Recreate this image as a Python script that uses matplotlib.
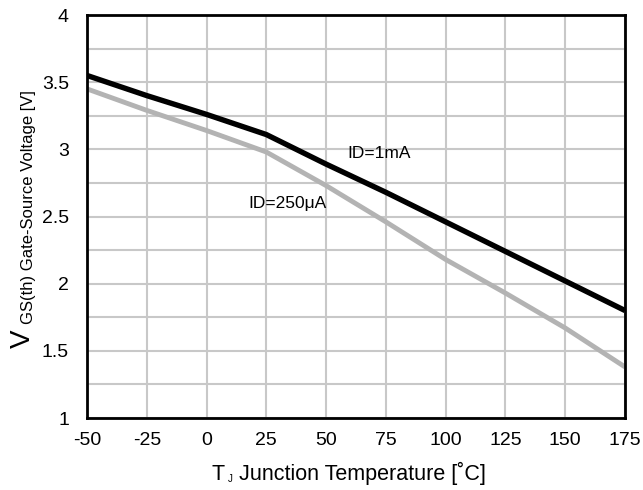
import numpy as np
import matplotlib.pyplot as plt
from matplotlib.ticker import MultipleLocator

plt.rcParams['font.family'] = ['Liberation Sans', 'DejaVu Sans']
plt.rcParams['axes.unicode_minus'] = False

temp = [-50, -25, 0, 25, 50, 75, 100, 125, 150, 175]
vgs_1ma = [3.55, 3.40, 3.26, 3.11, 2.89, 2.68, 2.46, 2.24, 2.02, 1.80]
vgs_250ua = [3.45, 3.29, 3.14, 2.98, 2.73, 2.46, 2.18, 1.93, 1.67, 1.38]

W, H = 643, 490
fig = plt.figure(figsize=(W / 100, H / 100), dpi=100)
ax = fig.add_axes([87 / W, 1 - 418 / H, (625 - 87) / W, (418 - 15) / H])

ax.plot(temp, vgs_250ua, color='#b3b3b3', lw=3.5, solid_capstyle='butt', zorder=3)
ax.plot(temp, vgs_1ma, color='black', lw=3.9, solid_capstyle='butt', zorder=4)

ax.set_xlim(-50, 175)
ax.set_ylim(1, 4)
ax.xaxis.set_major_locator(MultipleLocator(25))
ax.yaxis.set_major_locator(MultipleLocator(0.5))
ax.yaxis.set_minor_locator(MultipleLocator(0.25))
ax.yaxis.set_major_formatter(plt.FuncFormatter(lambda v, p: f'{v:g}'))
ax.grid(True, which='both', color='#c8c8c8', lw=1.5, zorder=0)
ax.set_axisbelow(True)
ax.tick_params(which='both', length=0, labelsize=14)
ax.tick_params(axis='x', pad=10)
ax.tick_params(axis='y', pad=13)

for s in ax.spines.values():
    s.set_linewidth(2)
    s.set_zorder(5)

ax.text(59, 2.97, 'ID=1mA', fontsize=12.5, va='center', ha='left')
ax.text(17.5, 2.60, 'ID=250\u03bcA', fontsize=12.5, va='center', ha='left')


def px(x, y):
    return x / W, 1 - y / H


# x axis label: T with small subscript J
fig.text(*px(212, 480), 'T', fontsize=15.5, ha='left', va='baseline')
fig.text(*px(228, 482), 'J', fontsize=7, ha='left', va='baseline')
fig.text(*px(239, 480), 'Junction Temperature [˚C]', fontsize=15.5,
         ha='left', va='baseline')

# y axis label: V with subscript text
fig.text(*px(30, 348), 'V', fontsize=20, rotation=90, rotation_mode='anchor',
         ha='left', va='baseline')
fig.text(*px(33, 324), 'GS(th) Gate-Source Voltage [V]', fontsize=12,
         rotation=90, rotation_mode='anchor', ha='left', va='baseline')

fig.savefig('out.png', dpi=100)
